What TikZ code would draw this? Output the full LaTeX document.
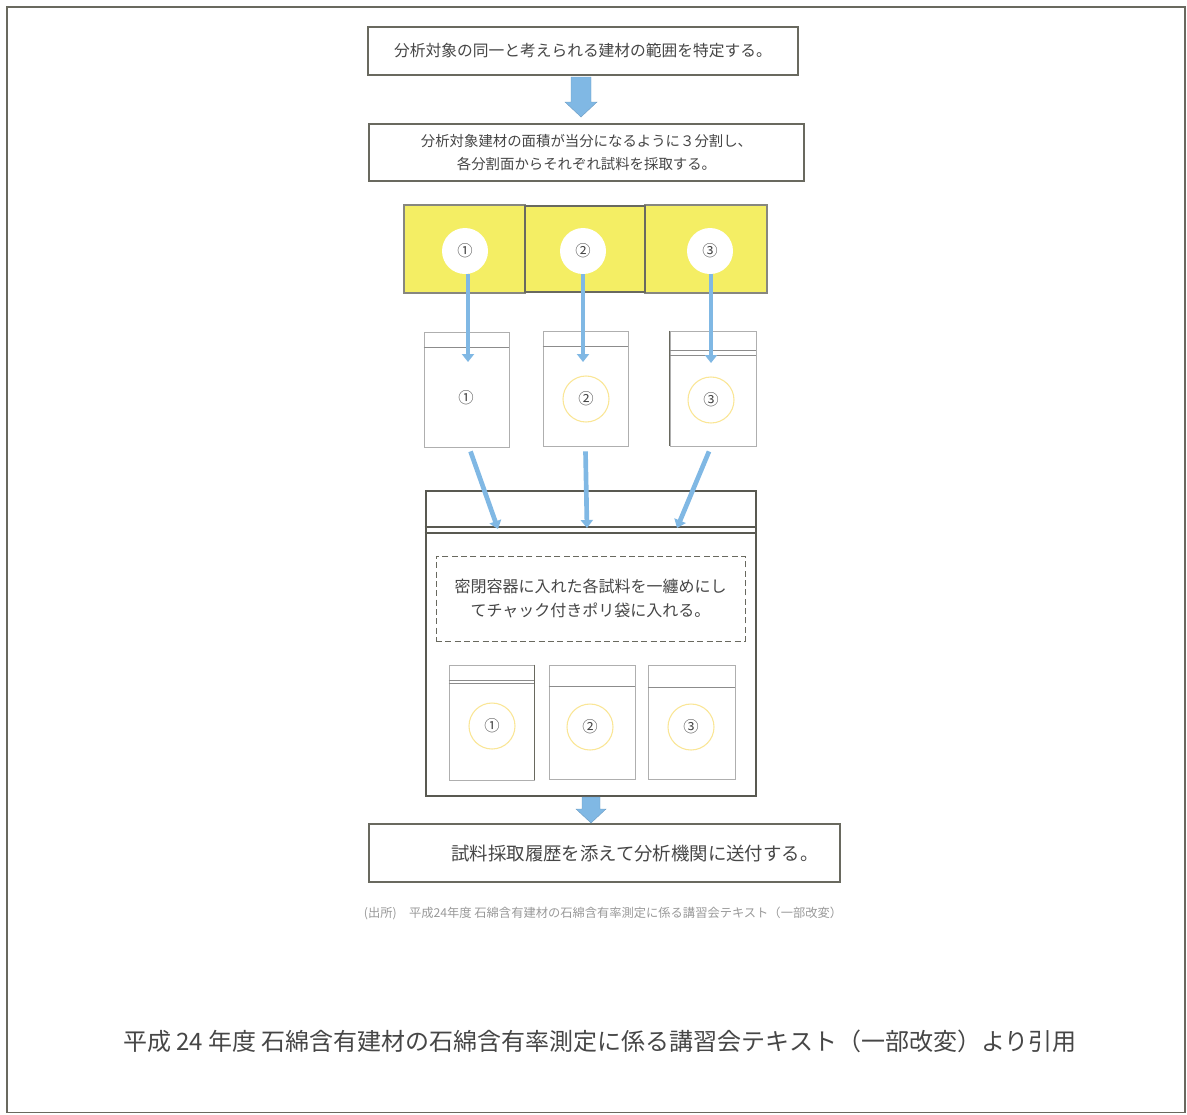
\documentclass[tikz,border=0pt]{standalone}
\usepackage{fontspec}
\setmainfont{Noto Sans CJK JP}
\usetikzlibrary{arrows.meta,calc}
\definecolor{framegray}{RGB}{105,105,95}
\definecolor{ablue}{RGB}{128,184,228}
\definecolor{ayellow}{RGB}{244,238,100}
\definecolor{ringyel}{RGB}{250,230,150}
\definecolor{txtgray}{RGB}{70,70,70}
\definecolor{baggray}{RGB}{175,175,175}
\tikzset{
  stepbox/.style={draw=framegray, line width=0.9pt, fill=white, text=txtgray, inner sep=0pt, align=center},
  yelbox/.style={draw=framegray!80, line width=0.8pt, fill=ayellow, inner sep=0pt},
  whitedot/.style={circle, fill=white, minimum size=0.75*46, inner sep=0pt, text=txtgray, font=\fontsize{11.5}{13}\selectfont},
  bagbox/.style={draw=baggray, line width=0.6pt, fill=white, inner sep=0pt},
  ringdot/.style={circle, draw=ringyel, line width=0.8pt, minimum size=0.75*46, inner sep=0pt, text=txtgray, font=\fontsize{11.5}{13}\selectfont},
  plaindot/.style={circle, minimum size=0.75*46, inner sep=0pt, text=txtgray, font=\fontsize{11.5}{13}\selectfont},
  bluearrow/.style={draw=ablue, line width=3.5pt, -{Triangle[width=9pt,length=6pt]}},
  blockarrow/.style={fill=ablue, draw=ablue!85!black, line width=0.3pt},
  stripe/.style={draw=baggray!80!black, line width=0.6pt},
}
\begin{document}
\begin{tikzpicture}[x=0.75pt,y=-0.75pt]
\useasboundingbox (0,0) rectangle (1187,1114);
% outer frame
\draw[framegray, line width=1.1pt] (7,7) rectangle (1185,1112.5);

% box 1
\node[stepbox, minimum width=0.75*430, minimum height=0.75*48,
      font=\fontsize{11.8}{14}\selectfont] (b1) at (583,51)
  {分析対象の同一と考えられる建材の範囲を特定する。};
% box 2
\node[stepbox, minimum width=0.75*435, minimum height=0.75*57,
      font=\fontsize{10.8}{17}\selectfont] (b2) at (586.5,152.5)
  {分析対象建材の面積が当分になるように３分割し、\\各分割面からそれぞれ試料を採取する。};

% block arrow 1
\coordinate (ba1) at (581,77);
\draw[blockarrow] ($(ba1)+(-10,0)$) -- ($(ba1)+(10,0)$) -- ($(ba1)+(10,25)$) -- ($(ba1)+(16,25)$)
  -- ($(ba1)+(0,40)$) -- ($(ba1)+(-16,25)$) -- ($(ba1)+(-10,25)$) -- cycle;

% yellow areas
\node[yelbox, minimum width=0.75*121, minimum height=0.75*88] (y1) at (464.5,249) {};
\node[yelbox, minimum width=0.75*122, minimum height=0.75*88] (y3) at (706,249) {};
\node[yelbox, draw=framegray, minimum width=0.75*120, minimum height=0.75*86] (y2) at (585,249) {};
\node[whitedot] (c1) at (465,251) {①};
\node[whitedot] (c2) at (583,251) {②};
\node[whitedot] (c3) at (710,251) {③};

% upper bags
\node[bagbox, minimum width=0.75*85, minimum height=0.75*115] (u1) at (466.5,389.5) {};
\node[bagbox, minimum width=0.75*85, minimum height=0.75*115] (u2) at (585.5,388.5) {};
\node[bagbox, minimum width=0.75*86, minimum height=0.75*115] (u3) at (713,388.5) {};
\draw[stripe] ($(u1.north west)+(0,16)$) -- ($(u1.north east)+(0,16)$);
\draw[stripe] ($(u2.north west)+(0,16)$) -- ($(u2.north east)+(0,16)$);
\draw[stripe] ($(u3.north west)+(0,20)$) -- ($(u3.north east)+(0,20)$);
\draw[stripe] ($(u3.north west)+(0,25)$) -- ($(u3.north east)+(0,25)$);
\draw[framegray, line width=0.6pt] (u3.north west) -- (u3.south west);
\node[plaindot] (uc1) at (466,398) {①};
\node[ringdot] (uc2) at (586,399) {②};
\node[ringdot] (uc3) at (711,400) {③};

% arrows circles -> upper bags
\coordinate (t1) at (468,362);
\coordinate (t2) at (583,362);
\coordinate (t3) at (711,363);
\draw[bluearrow] (c1.south -| t1) -- (t1);
\draw[bluearrow] (c2.south -| t2) -- (t2);
\draw[bluearrow] (c3.south -| t3) -- (t3);

% big box
\node[draw=framegray!85!black, line width=2.2pt, fill=white, minimum width=0.75*330, minimum height=0.75*305, inner sep=0pt] (big) at (591,643.5) {};
\draw[framegray!85!black, line width=1.5pt] ($(big.north west)+(0,37)$) -- ($(big.north east)+(0,37)$);
\draw[framegray!85!black, line width=1.5pt] ($(big.north west)+(0,43)$) -- ($(big.north east)+(0,43)$);

% arrows upper bags -> big box
\coordinate (s1) at (498,529);
\coordinate (s2) at (587,528);
\coordinate (s3) at (677,528);
\draw[bluearrow] ($(u1.south)+(4,4)$) -- (s1);
\draw[bluearrow] ($(u2.south)+(0,5)$) -- (s2);
\draw[bluearrow] ($(u3.south)+(-4,5)$) -- (s3);

% dashed text box
\node[draw=framegray, dashed, dash pattern=on 4.5pt off 2.5pt, line width=0.7pt, fill=white,
      minimum width=0.75*309, minimum height=0.75*85, inner sep=0pt, align=center,
      text=txtgray, font=\fontsize{12}{18.5}\selectfont] (db) at (590.5,598.5)
  {密閉容器に入れた各試料を一纏めにし\\てチャック付きポリ袋に入れる。};

% lower bags
\node[bagbox, minimum width=0.75*85, minimum height=0.75*115] (l1) at (491.5,722.5) {};
\node[bagbox, minimum width=0.75*86, minimum height=0.75*114] (l2) at (592,722) {};
\node[bagbox, minimum width=0.75*87, minimum height=0.75*114] (l3) at (691.5,722) {};
\draw[stripe] ($(l1.north west)+(0,16)$) -- ($(l1.north east)+(0,16)$);
\draw[stripe] ($(l1.north west)+(0,19)$) -- ($(l1.north east)+(0,19)$);
\draw[stripe] ($(l2.north west)+(0,22)$) -- ($(l2.north east)+(0,22)$);
\draw[stripe] ($(l3.north west)+(0,23)$) -- ($(l3.north east)+(0,23)$);
\draw[framegray, line width=0.6pt] (l1.north east) -- (l1.south east);
\node[ringdot] (lc1) at (492,726) {①};
\node[ringdot] (lc2) at (590,727) {②};
\node[ringdot] (lc3) at (691,727) {③};

% last box
\node[stepbox, minimum width=0.75*471, minimum height=0.75*58] (b3) at (604.5,853) {};
\node[text=txtgray, font=\fontsize{13.8}{16}\selectfont, inner sep=0pt] (b3t) at (635,854)
  {試料採取履歴を添えて分析機関に送付する。};

% block arrow 2
\coordinate (ba2) at (591,797);
\draw[blockarrow] ($(ba2)+(-9,0)$) -- ($(ba2)+(9,0)$) -- ($(ba2)+(9,12)$) -- ($(ba2)+(15,12)$)
  -- ($(ba2)+(0,26)$) -- ($(ba2)+(-15,12)$) -- ($(ba2)+(-9,12)$) -- cycle;

% source
\node[text=black!40, font=\fontsize{9.2}{10}\selectfont, inner sep=0pt] (src) at (603,913)
  {(出所)\quad 平成24年度 石綿含有建材の石綿含有率測定に係る講習会テキスト（一部改変）};

% caption
\node[text=txtgray, font=\fontsize{18}{20}\selectfont, inner sep=0pt] (cap) at (600,1041)
  {平成 24 年度 石綿含有建材の石綿含有率測定に係る講習会テキスト（一部改変）より引用};
\end{tikzpicture}
\end{document}
